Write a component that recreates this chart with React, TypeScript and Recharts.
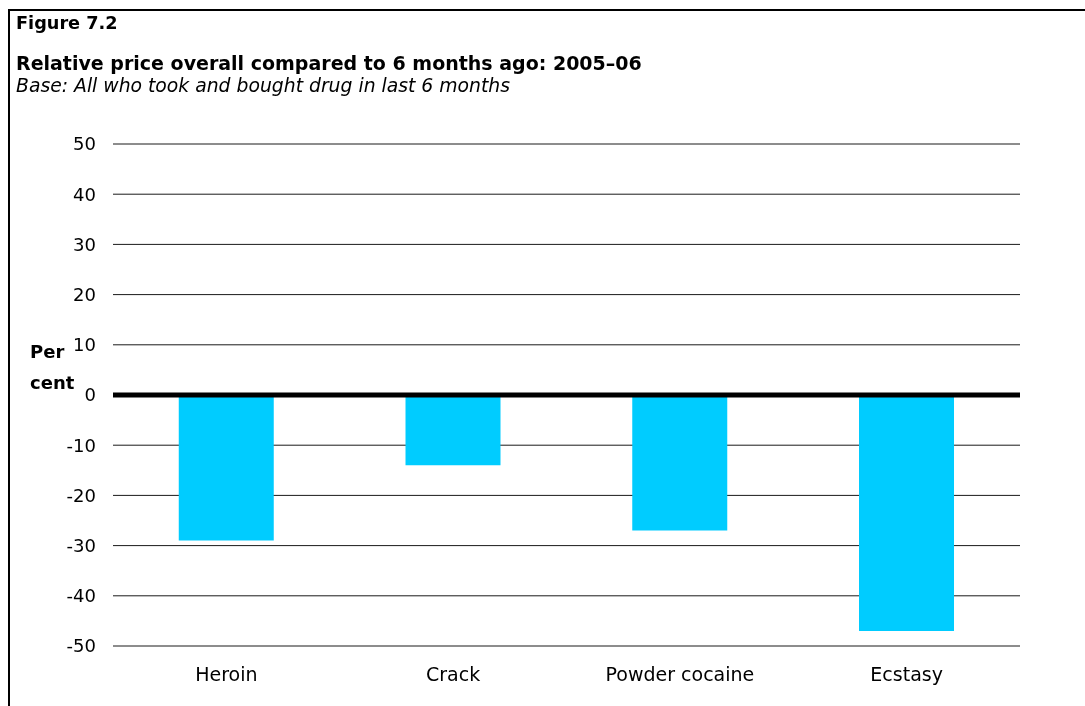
import React from "react";
import { Bar, BarChart, CartesianGrid, ReferenceLine, XAxis, YAxis } from "recharts";

const drugs = ["Heroin", "Crack", "Powder cocaine", "Ecstasy"];
const priceChange = [-29, -14, -27, -47];
const yTicks = [-50, -40, -30, -20, -10, 0, 10, 20, 30, 40, 50];

const data = drugs.map((name, i) => ({ name, value: priceChange[i] }));

const font = "'DejaVu Sans', Verdana, sans-serif";

export default function App() {
	return (
		<div style={{ fontFamily: font, color: "#000" }}>
			<div
				style={{
					position: "fixed",
					left: 8,
					top: 9,
					width: 1100,
					height: 720,
					border: "2px solid #000"
				}}
			/>
			<div style={{ position: "fixed", left: 16, top: 13, fontSize: 17.7, fontWeight: "bold" }}>
				Figure 7.2
			</div>
			<div style={{ position: "fixed", left: 16, top: 52, fontSize: 19, fontWeight: "bold" }}>
				Relative price overall compared to 6 months ago: 2005–06
			</div>
			<div style={{ position: "fixed", left: 16, top: 75, fontSize: 18.8, fontStyle: "italic" }}>
				Base: All who took and bought drug in last 6 months
			</div>
			<div
				style={{
					position: "fixed",
					left: 30,
					top: 336,
					fontSize: 18,
					fontWeight: "bold",
					lineHeight: "31px"
				}}
			>
				Per
				<br />
				cent
			</div>
			<div style={{ position: "fixed", left: 0, top: 0 }}>
				<BarChart
					width={1085}
					height={706}
					data={data}
					margin={{ top: 144, right: 65, bottom: 30, left: 53 }}
					barCategoryGap="29%"
				>
					<CartesianGrid vertical={false} stroke="#1a1a1a" />
					<XAxis
						dataKey="name"
						axisLine={false}
						tickLine={false}
						tickMargin={16}
						height={30}
						tick={{ fill: "#000", fontSize: 19, fontFamily: font }}
					/>
					<YAxis
						domain={[-50, 50]}
						ticks={yTicks}
						width={60}
						axisLine={false}
						tickLine={false}
						tickMargin={11}
						tick={{ fill: "#000", fontSize: 18, fontFamily: font }}
					/>
					<Bar dataKey="value" fill="#00CCFF" isAnimationActive={false} />
					<ReferenceLine y={0} stroke="#000" strokeWidth={5} />
				</BarChart>
			</div>
		</div>
	);
}
